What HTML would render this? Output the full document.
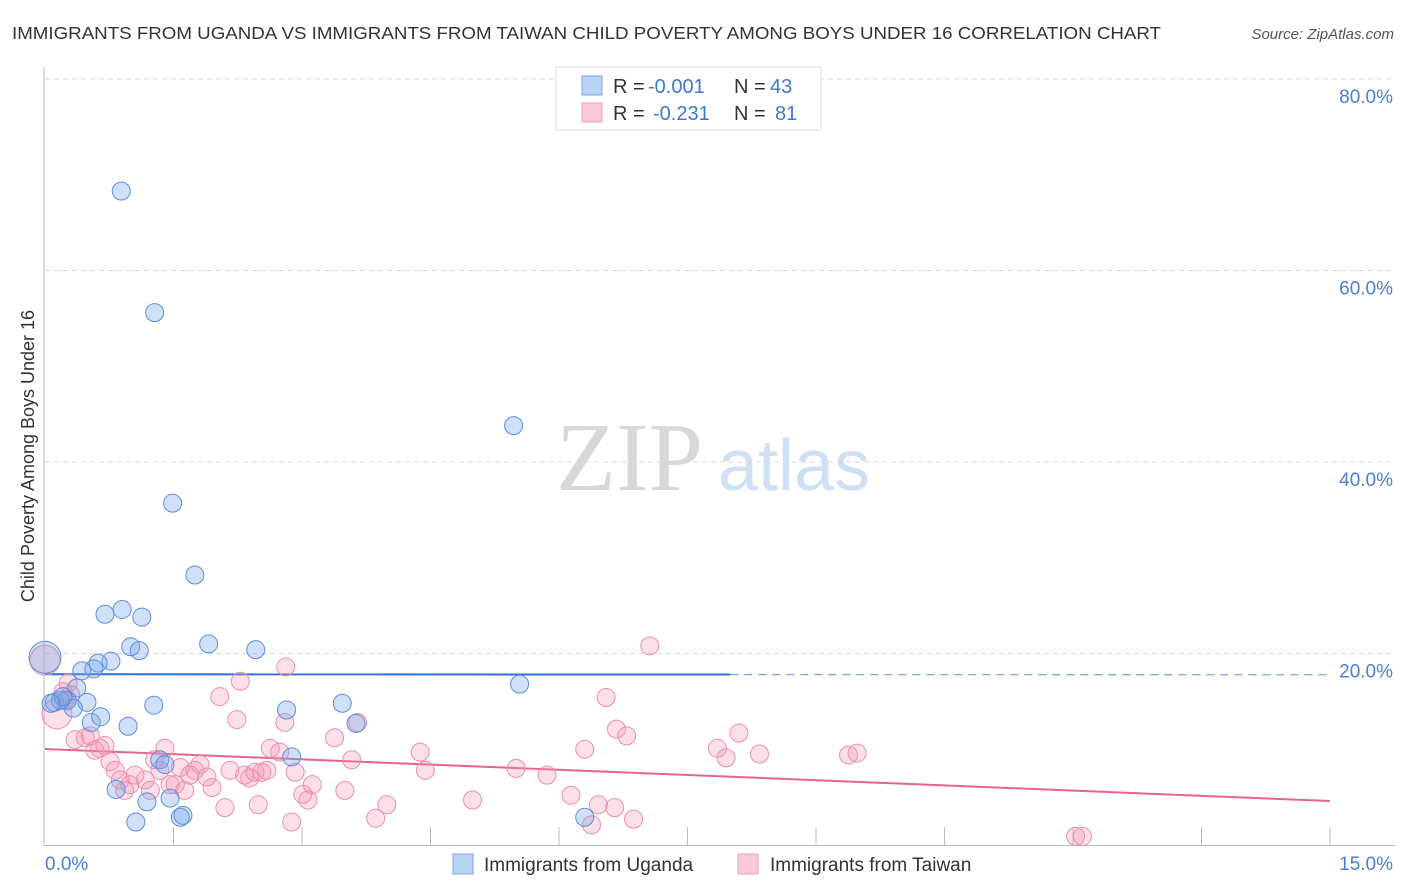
<!DOCTYPE html>
<html><head><meta charset="utf-8">
<style>
body{margin:0;background:#fff;font-family:"Liberation Sans",sans-serif;}
svg{display:block}
</style></head>
<body>
<svg id="chart" width="1406" height="892" xmlns="http://www.w3.org/2000/svg">
<text x="12" y="39" font-size="17.5" fill="#333" textLength="1149" lengthAdjust="spacingAndGlyphs">IMMIGRANTS FROM UGANDA VS IMMIGRANTS FROM TAIWAN CHILD POVERTY AMONG BOYS UNDER 16 CORRELATION CHART</text>
<text x="1394" y="39" font-size="15" fill="#555" font-style="italic" text-anchor="end">Source: ZipAtlas.com</text>
<text x="556" y="490" font-size="98" fill="#d8d8d8" font-family="Liberation Serif,serif">ZIP</text>
<text x="718" y="490" font-size="72" fill="#cfe0f5">atlas</text>
<text transform="translate(34,456) rotate(-90)" font-size="18" fill="#333" text-anchor="middle">Child Poverty Among Boys Under 16</text>
<g id="grid"></g><g id="axes"></g><g id="trends"></g><g id="pts"></g>
<g>
<rect x="556" y="67" width="265" height="63" fill="#fff" stroke="#ddd"/>
<rect x="582" y="76" width="20" height="19" fill="#b9d3f5" stroke="#7aa6e3"/>
<rect x="582" y="103" width="20" height="19" fill="#fcc9d8" stroke="#eda0b8"/>
<text x="613" y="93" font-size="20" fill="#333">R = <tspan fill="#3f78d0" x="648">-0.001</tspan><tspan x="734">N = </tspan><tspan fill="#3f78d0" x="770">43</tspan></text>
<text x="613" y="120" font-size="20" fill="#333">R = <tspan fill="#3f78d0" x="653">-0.231</tspan><tspan x="734">N = </tspan><tspan fill="#3f78d0" x="775">81</tspan></text>
</g>
<g>
<rect x="453" y="854" width="20" height="20" fill="#b9d3f5" stroke="#7aa6e3"/>
<text x="484" y="871" font-size="19" fill="#333">Immigrants from Uganda</text>
<rect x="738" y="854" width="20" height="20" fill="#fcc9d8" stroke="#eda0b8"/>
<text x="770" y="871" font-size="19" fill="#333">Immigrants from Taiwan</text>
</g>
</svg>
<script>
const yTicks=[20,40,60,80];
const yTickLabels=["20.0%","40.0%","60.0%","80.0%"];
const xTickLabels=["0.0%","15.0%"];
const ugandaX=[0.89,1.28,5.47,1.49,1.75,0.70,0.90,1.13,1.91,1.00,1.10,2.46,0.77,0.62,0.57,0.43,0.37,0.11,0.26,0.49,0.33,0.54,0.65,0.97,1.27,2.82,3.47,3.63,5.54,2.88,1.34,1.40,0.83,1.19,1.46,1.06,1.58,1.61,6.30,0,0.18,0.21,0.07];
const ugandaY=[68.3,55.6,43.8,35.7,28.2,24.1,24.6,23.8,21.0,20.7,20.3,20.4,19.2,19.0,18.4,18.2,16.4,14.9,15.1,14.9,14.3,12.8,13.4,12.4,14.6,14.1,14.8,12.7,16.8,9.2,8.9,8.4,5.8,4.5,4.9,2.4,2.9,3.1,2.9,19.6,15.1,15.5,14.8];
const taiwanX=[0,0.14,0.27,0.21,0.23,0.30,0.35,0.47,0.53,0.58,0.64,0.70,0.76,0.82,0.88,0.93,0.99,1.05,1.17,1.23,1.28,1.34,1.40,1.46,1.52,1.58,1.63,1.69,1.75,1.81,1.89,1.95,2.04,2.10,2.16,2.24,2.28,2.33,2.39,2.45,2.49,2.53,2.59,2.63,2.74,2.80,2.81,2.88,2.92,3.01,3.07,3.12,3.38,3.50,3.58,3.65,3.86,3.99,4.38,4.44,4.99,5.50,5.86,6.14,6.30,6.38,6.46,6.55,6.65,6.67,6.79,6.87,7.06,7.85,7.95,8.10,8.34,9.38,9.48,12.03,12.11];
const taiwanY=[19.3,13.7,16.9,16.0,15.1,15.7,11.0,11.2,11.4,9.9,10.1,10.4,8.7,7.8,6.8,5.7,6.3,7.3,6.8,5.7,8.9,7.8,10.1,6.3,6.3,8.1,5.7,7.3,7.8,8.4,7.1,6.0,15.5,3.9,7.8,13.1,17.1,7.3,7.0,7.6,4.2,7.6,7.8,10.1,9.7,12.8,18.6,2.4,7.6,5.3,4.7,6.3,11.2,5.7,8.9,12.8,2.8,4.2,9.7,7.8,4.7,8.0,7.3,5.2,10.0,2.1,4.2,15.4,3.9,12.1,11.4,2.7,20.8,10.1,9.1,11.7,9.5,9.4,9.6,0.9,0.9];
const NS="http://www.w3.org/2000/svg";
const X0=45,X1=1330,Y0=845,PPY=9.575;
function sx(v){return X0+(v/15)*(X1-X0);}
function sy(v){return Y0-v*PPY;}
function mk(tag,attrs,parent){const e=document.createElementNS(NS,tag);for(const k in attrs)e.setAttribute(k,attrs[k]);parent.appendChild(e);return e;}
const grid=document.getElementById('grid'),axes=document.getElementById('axes'),trends=document.getElementById('trends'),pts=document.getElementById('pts');
yTicks.forEach((t,i)=>{
  const l=mk('line',{x1:45,x2:1395,y1:sy(t),y2:sy(t),stroke:'#d8d8d8','stroke-dasharray':'5,4'},grid);
  
  
  const tx=mk('text',{x:1393,y:sy(t)+24,'font-size':19,fill:'#4a7fd4','text-anchor':'end'},grid);
  tx.textContent=yTickLabels[i];
  
  
});
const ya=mk('line',{x1:44,x2:44,y1:67,y2:846,stroke:'#bbb'},axes);


const xa=mk('line',{x1:44,x2:1395,y1:845.5,y2:845.5,stroke:'#bbb'},axes);


for(let i=1;i<=10;i++){const v=i*1.5;const t=mk('line',{x1:sx(v),x2:sx(v),y1:827,y2:845,stroke:'#bbb'},axes);
  
  }
[[0,'start',45],[15,'end',1393]].forEach((a,i)=>{const t=mk('text',{x:a[2],y:870,'font-size':19,fill:'#4a7fd4','text-anchor':a[1]},axes);t.textContent=xTickLabels[i];
  
  });
function fit(xs,ys){const n=xs.length;let mx=0,my=0;for(let i=0;i<n;i++){mx+=xs[i];my+=ys[i];}mx/=n;my/=n;let sxy=0,sxx=0;for(let i=0;i<n;i++){sxy+=(xs[i]-mx)*(ys[i]-my);sxx+=(xs[i]-mx)**2;}const b=sxy/sxx;return [my-b*mx,b];}
const fb=fit(ugandaX,ugandaY),fp=fit(taiwanX,taiwanY);
const bl=mk('line',{x1:sx(0),y1:sy(fb[0]),x2:sx(8),y2:sy(fb[0]+fb[1]*8),stroke:'#2f6fd6','stroke-width':2},trends);


const bd=mk('line',{x1:sx(8),y1:sy(fb[0]+fb[1]*8),x2:sx(15),y2:sy(fb[0]+fb[1]*15),stroke:'#7aa6e3','stroke-width':1.3,'stroke-dasharray':'8,6'},trends);


const pl=mk('line',{x1:sx(0),y1:sy(fp[0]),x2:sx(15),y2:sy(fp[0]+fp[1]*15),stroke:'#e8638e','stroke-width':2},trends);


taiwanX.forEach((x,i)=>{const r=(i<2)?15:9;const c=mk('circle',{cx:sx(x),cy:sy(taiwanY[i]),r:r,fill:'rgba(245,150,180,0.3)',stroke:'#ea8fad','stroke-width':1},pts);
  
  });
ugandaX.forEach((x,i)=>{const r=(i===39)?16:9;const c=mk('circle',{cx:sx(x),cy:sy(ugandaY[i]),r:r,fill:'rgba(120,165,235,0.35)',stroke:'#5b8fd9','stroke-width':1},pts);
  
  });
</script>
</body></html>
